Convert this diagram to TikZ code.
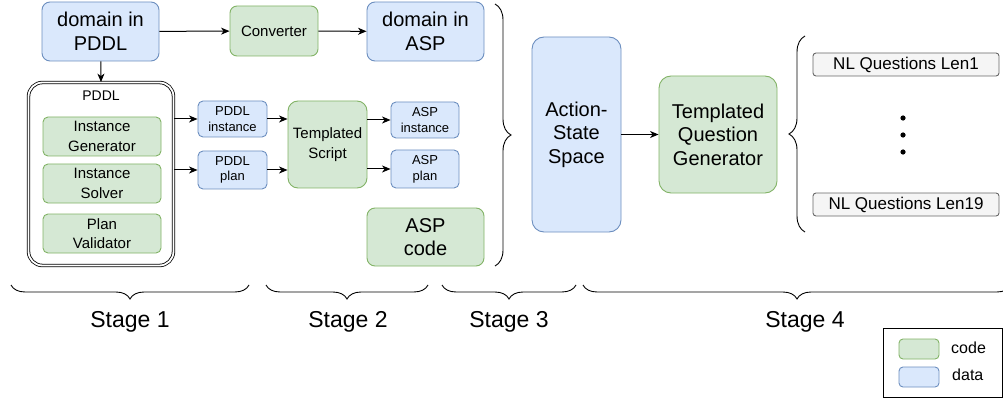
\documentclass[tikz,border=0pt]{standalone}
\usepackage{fontspec}
\setmainfont{Liberation Sans}
\usetikzlibrary{arrows.meta,decorations.pathreplacing}
\definecolor{gfill}{HTML}{D5E8D4}
\definecolor{gdraw}{HTML}{82B366}
\definecolor{bfill}{HTML}{DAE8FC}
\definecolor{bdraw}{HTML}{6C8EBF}
\definecolor{nfill}{HTML}{F5F5F5}
\definecolor{ndraw}{HTML}{666666}
\begin{document}
\begin{tikzpicture}[x=1pt,y=-1pt,
  base/.style={line width=0.9pt, align=center, inner sep=0pt, text=black},
  codebox/.style={base, fill=gfill, draw=gdraw, rounded corners=#1},
  codebox/.default=7pt,
  databox/.style={base, fill=bfill, draw=bdraw, rounded corners=#1},
  databox/.default=7pt,
  nlbox/.style={base, fill=nfill, draw=ndraw, rounded corners=3pt, minimum width=186pt, minimum height=23pt, font=\fontsize{17}{20}\selectfont},
  big/.style={font=\fontsize{20}{23.5}\selectfont},
  mid/.style={font=\fontsize{15}{19.5}\selectfont},
  small/.style={font=\fontsize{13}{15.7}\selectfont},
  arr/.style={line width=1pt, -{Stealth[length=8.5pt,width=7pt,inset=2.5pt]}},
  hbrace/.style={line width=0.9pt, decorate, decoration={brace, amplitude=#1}},
  stagelbl/.style={font=\fontsize{23}{26}\selectfont},
  dotmark/.style={fill=black, draw=none}
]
\useasboundingbox (0,0) rectangle (1003,398);

% Stage 1 / 2
\node[databox=8pt, big, minimum width=117pt, minimum height=59pt] (dpddl) at (100.5,31.5) {domain in\\PDDL};
\node[codebox, mid, minimum width=88pt, minimum height=50pt] (conv) at (274,31) {Converter};
\node[databox=8pt, big, minimum width=117pt, minimum height=59pt] (dasp) at (425.5,31.5) {domain in\\ASP};

\node[draw=black, line width=0.8pt, double, double distance=1.8pt, rounded corners=14pt, minimum width=145pt, minimum height=183pt, inner sep=0pt] (pddl) at (101,174) {};
\node[font=\fontsize{14}{16}\selectfont, inner sep=0pt] (pddllbl) at (101,96) {PDDL};
\node[codebox=5pt, mid, minimum width=118pt, minimum height=39pt] (ig) at (102,136.5) {Instance\\Generator};
\node[codebox=5pt, mid, minimum width=118pt, minimum height=39pt] (is) at (102,183.5) {Instance\\Solver};
\node[codebox=5pt, mid, minimum width=118pt, minimum height=39pt] (pv) at (102,233.5) {Plan\\Validator};

\node[databox=5pt, small, minimum width=69pt, minimum height=36pt] (pi) at (232.5,119) {PDDL\\instance};
\node[databox=5pt, small, minimum width=69pt, minimum height=38pt] (pp) at (232.5,170) {PDDL\\plan};
\node[codebox=10pt, mid, minimum width=79pt, minimum height=87pt] (ts) at (327.5,144.5) {Templated\\Script};
\node[databox=5pt, small, minimum width=68pt, minimum height=36pt] (ai) at (425,120) {ASP\\instance};
\node[databox=5pt, small, minimum width=68pt, minimum height=38pt] (ap) at (425,169) {ASP\\plan};
\node[codebox=8pt, big, minimum width=117pt, minimum height=58pt] (aspc) at (425.5,237) {ASP\\code};

\draw[arr] (dpddl) -- (conv);
\draw[arr] (conv) -- (dasp);
\draw[arr] (dpddl) -- (pddl.north);
\draw[arr] (pddl.east |- pi) -- (pi.west);
\draw[arr] (pddl.east |- pp) -- (pp.west);
\draw[arr] (pi.east) -- (ts.west |- pi);
\draw[arr] (pp.east) -- (ts.west |- pp);
\draw[arr] (ts.east |- ai) -- (ai.west);
\draw[arr] (ts.east |- ap) -- (ap.west);

% Stage 3 / 4
\node[databox=12pt, big, minimum width=89pt, minimum height=195pt] (ass) at (576.5,134.5) {Action-\\State\\Space};
\node[codebox=12pt, big, minimum width=118pt, minimum height=117pt] (tqg) at (718,134.5) {Templated\\Question\\Generator};
\draw[arr] (ass) -- (tqg);

\node[nlbox] (nl1) at (906,64.5) {NL Questions Len1};
\node[nlbox] (nl19) at (906,204.5) {NL Questions Len19};
\fill[dotmark] (903,118) circle (2.6pt);
\fill[dotmark] (903,135) circle (2.6pt);
\fill[dotmark] (903,152) circle (2.6pt);

% braces
\coordinate (bA) at (495,4);
\coordinate (bB) at (495,266);
\draw[hbrace=16pt] (bA) -- (bB);
\coordinate (bC) at (805,232);
\coordinate (bD) at (805,36);
\draw[hbrace=16pt] (bC) -- (bD);

\coordinate (s1a) at (11,285); \coordinate (s1b) at (249,285);
\coordinate (s2a) at (266,285); \coordinate (s2b) at (428,285);
\coordinate (s3a) at (442,285); \coordinate (s3b) at (576,285);
\coordinate (s4a) at (583,285); \coordinate (s4b) at (1011,285);
\draw[hbrace=14pt] (s1b) -- (s1a);
\draw[hbrace=14pt] (s2b) -- (s2a);
\draw[hbrace=14pt] (s3b) -- (s3a);
\draw[hbrace=14pt] (s4b) -- (s4a);

\node[stagelbl] (st1) at (130,322) {Stage 1};
\node[stagelbl] (st2) at (348,322) {Stage 2};
\node[stagelbl] (st3) at (509,322) {Stage 3};
\node[stagelbl] (st4) at (805,322) {Stage 4};

% legend
\node[draw=black, line width=0.8pt, minimum width=119pt, minimum height=69pt, inner sep=0pt] (leg) at (942.5,362.5) {};
\node[codebox=4pt, minimum width=40pt, minimum height=20pt] (lc) at (919,349) {};
\node[databox=4pt, minimum width=40pt, minimum height=20pt] (ld) at (919,377) {};
\node[anchor=west, inner sep=0pt, font=\fontsize{16}{18}\selectfont] (lct) at (951,348) {code};
\node[anchor=west, inner sep=0pt, font=\fontsize{16}{18}\selectfont] (ldt) at (952,375) {data};
\end{tikzpicture}
\end{document}
